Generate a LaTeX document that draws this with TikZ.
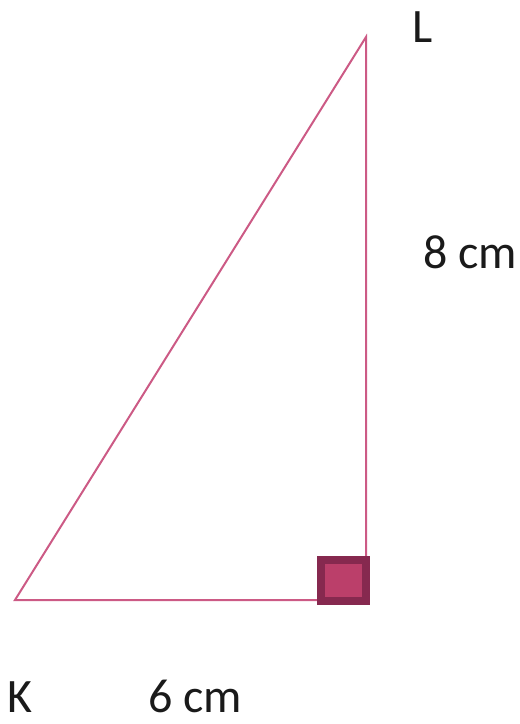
\documentclass[tikz,border=0pt]{standalone}
\usepackage{fontspec}
\setmainfont{Carlito}
\usetikzlibrary{positioning}
\definecolor{EDGE}{HTML}{CC5A85}
\definecolor{MARK}{HTML}{86294F}
\definecolor{MARKFILL}{HTML}{BB3F6A}
\definecolor{INK}{HTML}{1A1A1A}

\begin{document}
\begin{tikzpicture}[
    x=1pt, y=-1pt,
    side/.style={draw=EDGE, line width=2pt},
    rightmark/.style={draw=MARK, fill=MARKFILL, line width=8pt},
    lbl/.style={text=INK, font=\fontsize{48}{52}\selectfont, inner sep=0pt, anchor=base},
  ]
  \useasboundingbox (0,0) rectangle (520,724);

  % vertices
  \coordinate (K) at (15,600);
  \coordinate (R) at (366,600);
  \coordinate (L) at (366,37);

  % sides
  \draw[side] (K) -- (R) -- (L) -- cycle;

  % right angle box
  \draw[rightmark] (321,560) rectangle (366,601);

  % labels
  \node[lbl] (Lname) at (423,42) {L};
  \node[lbl] (Kname) at (20,712) {K};
  \node[lbl] (vert) at (470,268) {8 cm};
  \node[lbl] (base) at (195,712) {6 cm};

\end{tikzpicture}
\end{document}
